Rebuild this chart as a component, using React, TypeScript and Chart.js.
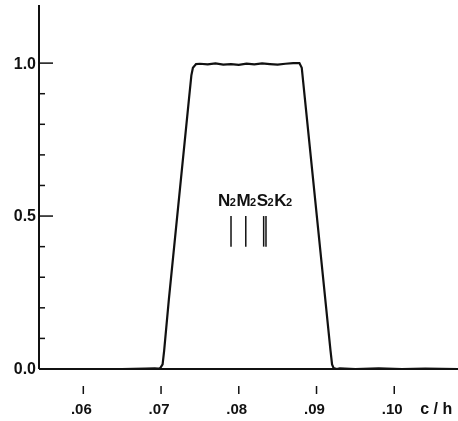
import React, { useEffect, useRef } from "react";
import { Chart, registerables } from "chart.js";

Chart.register(...registerables);

// Filter response curve (frequency in c/h, relative response)
const freq = [0.0543, 0.06, 0.065, 0.068, 0.0692, 0.0696, 0.0699, 0.0702, 0.0704, 0.071, 0.0736, 0.0739, 0.0741, 0.0745, 0.075, 0.076, 0.077, 0.078, 0.079, 0.08, 0.081, 0.082, 0.083, 0.084, 0.085, 0.086, 0.087, 0.0875, 0.0878, 0.0881, 0.0885, 0.0918, 0.092, 0.0922, 0.0926, 0.093, 0.095, 0.098, 0.101, 0.104, 0.1082];
const response = [0.0, 0.0, 0.0, 0.001, 0.002, 0.001, 0.003, 0.015, 0.06, 0.226, 0.885, 0.96, 0.985, 0.997, 0.998, 0.996, 0.999, 0.995, 0.997, 0.994, 0.998, 0.996, 0.999, 0.997, 0.995, 0.998, 1.0, 1.0, 1.0, 0.985, 0.885, 0.06, 0.015, 0.003, 0.0, 0.002, 0.0, 0.002, 0.0, 0.001, 0.0];

// Tidal constituents
const constituentNames = ["N", "M", "S", "K"];
const constituentFreqs = [0.079, 0.0809, 0.0832, 0.0835];
const markerRange = [0.4, 0.5];

// Axis ticks
const xTicks = [0.06, 0.07, 0.08, 0.09, 0.1];
const xTickLabels = [".06", ".07", ".08", ".09", ".10"];
const yMajorTicks = [0.0, 0.5, 1.0];
const yMajorLabels = ["0.0", "0.5", "1.0"];
const yMinorTicks = [0.1, 0.2, 0.3, 0.4, 0.6, 0.7, 0.8, 0.9];
const xUnit = "c/h";

const X_MIN = 0.0543;
const X_MAX = 0.1082;
const Y_MIN = 0;
const Y_MAX = 1.19;

const FAMILY = "'Liberation Sans', Arial, sans-serif";

const axesPlugin = {
  id: "handAxes",
  afterDraw(chart: any) {
    const ctx = chart.ctx;
    const xs = chart.scales.x;
    const ys = chart.scales.y;
    const area = chart.chartArea;
    ctx.save();
    ctx.strokeStyle = "#111";
    ctx.fillStyle = "#111";
    ctx.lineWidth = 2;
    const y0 = ys.getPixelForValue(0);
    ctx.beginPath();
    ctx.moveTo(area.left, area.top);
    ctx.lineTo(area.left, y0);
    ctx.stroke();
    ctx.beginPath();
    ctx.moveTo(area.left, y0);
    ctx.lineTo(area.right, y0);
    ctx.stroke();
    ctx.lineWidth = 1.5;
    yMinorTicks.forEach((v) => {
      const py = ys.getPixelForValue(v);
      ctx.beginPath();
      ctx.moveTo(area.left, py);
      ctx.lineTo(area.left + 6, py);
      ctx.stroke();
    });
    ctx.font = "bold 16px " + FAMILY;
    ctx.textAlign = "right";
    ctx.textBaseline = "middle";
    yMajorTicks.forEach((v, i) => {
      const py = ys.getPixelForValue(v);
      if (v > 0) {
        ctx.beginPath();
        ctx.moveTo(area.left, py);
        ctx.lineTo(area.left + 14, py);
        ctx.stroke();
      }
      ctx.fillText(yMajorLabels[i], area.left - 3, py + 1);
    });
    ctx.font = "bold 15px " + FAMILY;
    ctx.textAlign = "center";
    ctx.textBaseline = "alphabetic";
    xTicks.forEach((v, i) => {
      const px = xs.getPixelForValue(v);
      ctx.beginPath();
      ctx.moveTo(px, y0 + 17);
      ctx.lineTo(px, y0 + 25);
      ctx.stroke();
      ctx.fillText(xTickLabels[i], px - 2, y0 + 45);
    });
    ctx.textAlign = "left";
    ctx.font = "bold 16px " + FAMILY;
    ctx.fillText(xUnit.split("").join(" "), xs.getPixelForValue(0.1) + 26, y0 + 45);
    let cx = xs.getPixelForValue(constituentFreqs[0]) - 13;
    const cy = ys.getPixelForValue(0.5) - 10;
    constituentNames.forEach((n) => {
      ctx.font = "bold 17px " + FAMILY;
      ctx.fillText(n, cx, cy);
      cx += ctx.measureText(n).width - 0.5;
      ctx.font = "bold 11px " + FAMILY;
      ctx.fillText("2", cx, cy);
      cx += ctx.measureText("2").width + 0.5;
    });
    ctx.restore();
  },
};

export default function App() {
  const ref = useRef<HTMLCanvasElement | null>(null);
  useEffect(() => {
    if (!ref.current) return;
    const curve = freq.map((f, i) => ({ x: f, y: response[i] }));
    const markers = constituentFreqs.map((f) => ({
      label: "m" + f,
      data: markerRange.map((v) => ({ x: f, y: v })),
      borderColor: "#111",
      borderWidth: 1.5,
      pointRadius: 0,
      tension: 0,
    }));
    const chart = new Chart(ref.current, {
      type: "line",
      data: {
        datasets: [
          {
            label: "response",
            data: curve,
            borderColor: "#111",
            borderWidth: 2.2,
            pointRadius: 0,
            tension: 0,
          },
          ...markers,
        ],
      },
      options: {
        animation: false,
        responsive: false,
        events: [],
        layout: { padding: { left: 39, top: 5, right: 0, bottom: 52 } },
        plugins: { legend: { display: false }, tooltip: { enabled: false } },
        scales: {
          x: { type: "linear", min: X_MIN, max: X_MAX, display: false },
          y: { type: "linear", min: Y_MIN, max: Y_MAX, display: false },
        },
      },
      plugins: [axesPlugin],
    });
    return () => chart.destroy();
  }, []);
  return (
    <div style={{ position: "absolute", left: 0, top: 0, width: 458, height: 421, background: "#fff" }}>
      <canvas ref={ref} width={458} height={421} style={{ display: "block" }} />
    </div>
  );
}
